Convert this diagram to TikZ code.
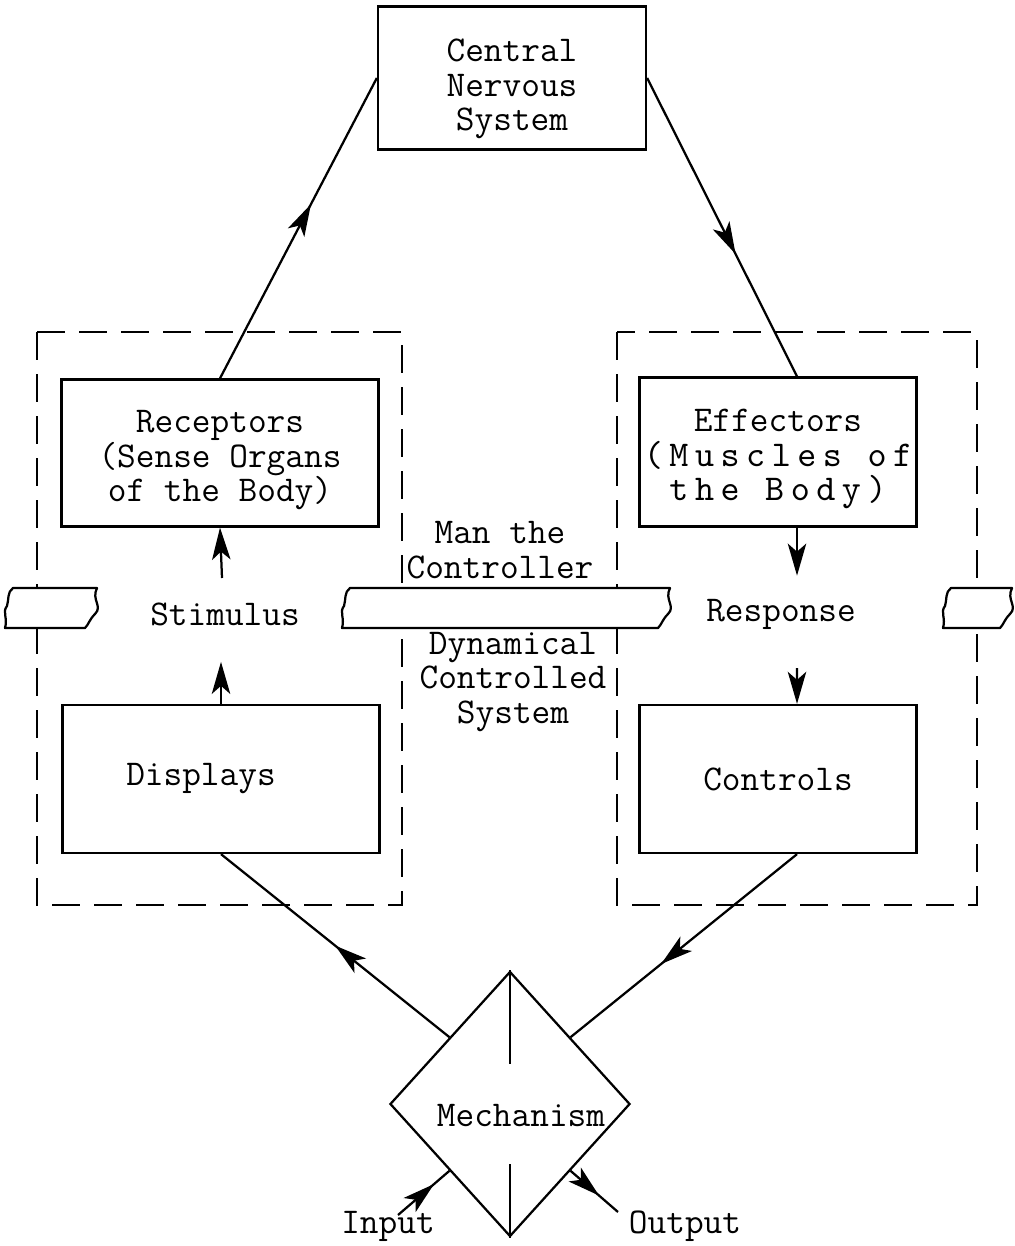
\documentclass[tikz,border=0pt]{standalone}
\usepackage{fontspec}
\usetikzlibrary{decorations.markings, calc, shapes.geometric}
\usetikzlibrary{arrows.meta}

\newcommand{\texto}{\ttfamily\fontsize{25.8}{24.5}\selectfont}
\newfontfamily\anchott{lmmono10-regular}[Extension=.otf, LetterSpace=18]
\newcommand{\ancho}{\anchott\fontsize{25.8}{24.5}\selectfont}

\begin{document}
\begin{tikzpicture}[x=0.025cm, y=-0.025cm,
  >={Stealth[length=8mm, width=4.6mm, inset=2mm]},
  linea/.style={line width=1.6pt},
  caja/.style={draw, line width=1.6pt, align=center, inner sep=0pt, font=\texto},
  rotulo/.style={align=center, inner sep=0pt, font=\texto},
  discont/.style={line width=1.4pt, dash pattern=on 7mm off 3.5mm},
  franja/.style={line width=1.6pt, fill=white, line join=round},
  medio/.style={postaction={decorate}, decoration={markings,
    mark=at position #1 with {\arrow{>}}}}]
  \useasboundingbox (0,0) rectangle (1014,1246);

  % Recuadros discontinuos
  \draw[discont] (37,332) rectangle (402,905);
  \draw[discont] (617,332) rectangle (977,905);

  % Franjas
  \foreach \xa/\xb in {5/97, 342/670, 943/1012} {
    \draw[franja] (\xa+8,588) -- (\xb,588)
      .. controls (\xb-6,600) and (\xb+6,606) .. (\xb-2,614)
      .. controls (\xb-8,620) and (\xb-8,624) .. (\xb-12,628)
      -- (\xa,628)
      .. controls (\xa+3,618) and (\xa-3,612) .. (\xa+2,606)
      .. controls (\xa+4,600) and (\xa+2,592) .. (\xa+8,588) -- cycle;
  }

  % Cajas
  \node[caja, minimum width=6.7cm, minimum height=3.575cm] (snc) at (512,78) {\rule{0pt}{32pt}Central\\Nervous\\System};
  \node[caja, minimum width=7.925cm, minimum height=3.675cm] (rec) at (220,453) {\rule{0pt}{26pt}Receptors\\(Sense Organs\\of the Body)};
  \node[caja, minimum width=6.925cm, minimum height=3.725cm] (efe) at (778,452) {\rule{0pt}{26pt}Effectors\\{\ancho(Muscles of}\\{\ancho the Body)}};
  \node[caja, minimum width=7.925cm, minimum height=3.7cm] (dis) at (221,779) {Displays\hspace*{1cm}};
  \node[caja, minimum width=6.925cm, minimum height=3.7cm] (con) at (778,779) {Controls};

  % Mecanismo
  \node[draw, diamond, line width=1.6pt, minimum width=6cm, minimum height=6.625cm, inner sep=0pt] (mec) at (510,1104) {};
  \node[rotulo] (mectxt) at (521,1116) {Mechanism};
  \draw[linea] (mec.north) -- ++(0,94);
  \draw[linea] (mec.south) -- ++(0,-74);

  % Rotulos
  \node[rotulo] (estim) at (225,614) {Stimulus};
  \node[rotulo] (resp) at (781,614) {Response};
  \node[rotulo] (hombre) at (500,550) {Man the\\Controller};
  \node[rotulo] (sistema) at (513,682) {Dynamical\\Controlled\\System};
  \node[rotulo] (entrada) at (388,1226) {Input};
  \node[rotulo] (salida) at (685,1226) {Output};

  % Extremos libres
  \coordinate (estA) at (222,578);
  \coordinate (resB) at (797,668);
  \coordinate (entA) at (398,1215);
  \coordinate (salB) at (618,1212);

  % Lazo superior
  \draw[linea, medio=0.58] (rec.north) -- (snc.west);
  \draw[linea, medio=0.59] (snc.east) -- ([xshift=4.75mm]efe.north);

  % Estimulo y respuesta
  \draw[linea, ->] (estA) -- (rec.south);
  \draw[linea, ->] (dis.north) -- ++(0,-42);
  \draw[linea, ->] ([xshift=4.75mm]efe.south) -- ++(0,48);
  \draw[linea, ->] (resB) -- ([xshift=4.75mm]con.north);

  % Lazo inferior
  \draw[linea, medio=0.5] (mec.north west) -- (dis.south);
  \draw[linea, medio=0.6] ([xshift=4.75mm]con.south) -- (mec.north east);
  \draw[linea, medio=0.7] (entA) -- (mec.south west);
  \draw[linea, medio=0.6] (mec.south east) -- (salB);

\end{tikzpicture}
\end{document}
